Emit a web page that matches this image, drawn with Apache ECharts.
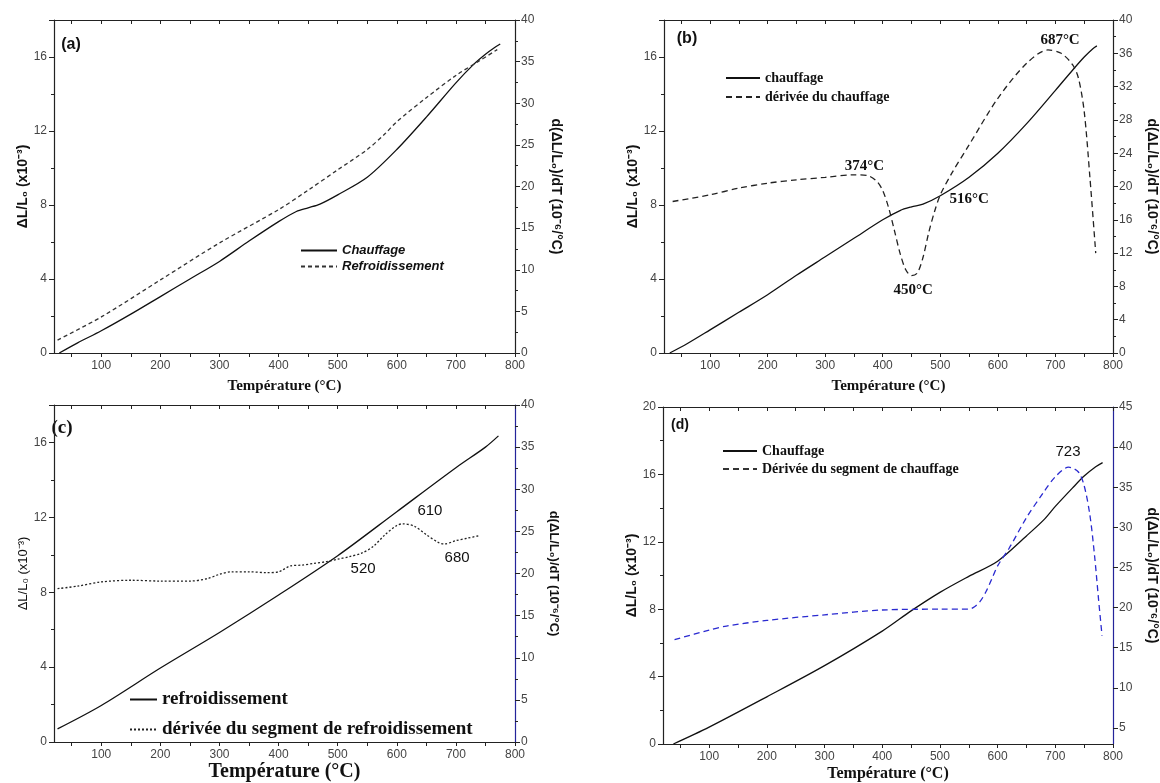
<!DOCTYPE html>
<html>
<head>
<meta charset="utf-8">
<script src="https://cdn.jsdelivr.net/npm/echarts@6/dist/echarts.min.js"></script>
<style>
html, body { margin: 0; padding: 0; background: #fff; }
#chart { width: 1160px; height: 783px; }
</style>
</head>
<body>
<div id="chart"></div>
<script>
// (a) heating / cooling dilatation
var aHeatT = [29, 60, 100, 150, 200, 250, 300, 350, 400, 430, 450, 470, 500, 550, 600, 650, 700, 730, 750, 765, 775];
var aHeatV = [0, 0.55, 1.2, 2.1, 3.05, 4.0, 4.95, 6.05, 7.1, 7.65, 7.85, 8.05, 8.55, 9.5, 11.0, 12.75, 14.6, 15.6, 16.15, 16.5, 16.7];
var aCoolT = [26, 100, 200, 300, 400, 450, 500, 550, 580, 600, 650, 700, 740, 770];
var aCoolV = [0.7, 1.95, 3.95, 5.95, 7.75, 8.8, 9.9, 11.0, 11.85, 12.5, 13.8, 15.0, 15.8, 16.4];

// (b) heating + derivative
var bHeatT = [30, 60, 100, 150, 200, 250, 300, 350, 400, 430, 450, 470, 500, 550, 600, 650, 700, 730, 750, 765, 772];
var bHeatV = [0, 0.5, 1.25, 2.2, 3.15, 4.2, 5.2, 6.2, 7.2, 7.7, 7.9, 8.05, 8.5, 9.5, 10.8, 12.4, 14.2, 15.3, 16.0, 16.45, 16.6];
var bDerT = [35, 100, 150, 200, 250, 300, 350, 374, 390, 400, 410, 420, 430, 440, 450, 460, 470, 480, 490, 500, 520, 550, 600, 650, 687, 710, 730, 740, 750, 760, 770];
var bDerV = [18.2, 19.0, 19.8, 20.4, 20.8, 21.1, 21.4, 21.3, 20.6, 19.5, 17.5, 14.8, 12.0, 10.0, 9.3, 9.6, 11.5, 14.5, 17.0, 19.0, 21.6, 25.0, 30.6, 34.8, 36.4, 36.0, 34.6, 33.0, 29.0, 21.0, 12.0];
var bNotes = [[368, 22.5, '374°C'], [453, 7.6, '450°C'], [550, 18.5, '516°C'], [708, 37.6, '687°C']];

// (c) cooling + derivative
var cCoolT = [26, 100, 200, 300, 400, 500, 600, 700, 750, 772];
var cCoolV = [0.7, 1.95, 3.95, 5.85, 7.85, 9.95, 12.3, 14.65, 15.75, 16.35];
var cDerT = [26, 60, 100, 150, 200, 250, 280, 300, 320, 350, 380, 400, 420, 440, 460, 480, 500, 520, 540, 560, 580, 600, 610, 630, 650, 670, 680, 700, 720, 740];
var cDerV = [18.2, 18.5, 19.0, 19.2, 19.1, 19.1, 19.4, 19.9, 20.2, 20.2, 20.1, 20.2, 20.9, 21.0, 21.2, 21.4, 21.7, 22.0, 22.4, 23.2, 24.6, 25.7, 25.9, 25.6, 24.6, 23.7, 23.5, 23.9, 24.2, 24.5];
var cNotes = [[656, 27.4, '610'], [543, 20.5, '520'], [702, 21.8, '680']];

// (d) heating + derivative
var dHeatT = [38, 100, 200, 300, 400, 450, 500, 550, 600, 650, 680, 700, 730, 750, 770, 782];
var dHeatV = [0, 1.0, 2.8, 4.65, 6.7, 7.9, 9.0, 9.95, 10.85, 12.35, 13.3, 14.1, 15.2, 15.9, 16.45, 16.7];
var dDerT = [40, 100, 130, 200, 300, 400, 500, 550, 560, 570, 580, 590, 600, 620, 650, 680, 700, 723, 740, 750, 760, 768, 775, 781];
var dDerV = [16.0, 17.2, 17.7, 18.4, 19.1, 19.7, 19.8, 19.8, 20.1, 20.8, 22.0, 23.6, 25.2, 27.4, 31.2, 34.4, 36.3, 37.5, 36.9, 35.2, 31.5, 26.5, 21.0, 16.5];
var dNotes = [[722, 39.4, '723']];

var xLabels = [100, 200, 300, 400, 500, 600, 700, 800];
var xTicks = [50, 100, 150, 200, 250, 300, 350, 400, 450, 500, 550, 600, 650, 700, 750, 800];
var dRightLabels = [5, 10, 15, 20, 25, 30, 35, 40, 45];

function pairs(t, v) {
  return t.map(function(x, i) { return [x, v[i]]; });
}

var SANS = 'Liberation Sans, Arial, sans-serif';
var SERIF = 'Liberation Serif, Times New Roman, serif';
var AXIS = '#222';
var NAVY = '#24249a';

var grids = [
  { left: 54, top: 20, width: 461, height: 333 },
  { left: 664, top: 20, width: 459, height: 333 },
  { left: 54, top: 405, width: 461, height: 337 },
  { left: 663, top: 407, width: 459, height: 337 }
];

var xNameStyle = [
  { fontSize: 15, gap: 26 },
  { fontSize: 15, gap: 26 },
  { fontSize: 20, gap: 17 },
  { fontSize: 16, gap: 22 }
];

var xAxes = [];
grids.forEach(function(g, i) {
  xAxes.push({
    type: 'value', gridIndex: i, min: 20, max: 800, position: 'bottom',
    name: 'Température (°C)', nameLocation: 'middle', nameGap: xNameStyle[i].gap,
    nameTextStyle: { fontFamily: SERIF, fontWeight: 'bold', fontSize: xNameStyle[i].fontSize, color: '#111' },
    axisLine: { show: true, onZero: false, lineStyle: { color: AXIS, width: 1.2 } },
    axisTick: { show: true, inside: false, length: 4, customValues: xTicks, lineStyle: { color: AXIS } },
    axisLabel: { customValues: xLabels, fontFamily: SANS, fontSize: 12, color: '#444', margin: 7 },
    splitLine: { show: false }
  });
  xAxes.push({
    type: 'value', gridIndex: i, min: 20, max: 800, position: 'top',
    axisLine: { show: true, onZero: false, lineStyle: { color: AXIS, width: 1.2 } },
    axisTick: { show: true, inside: true, length: 4, customValues: xTicks, lineStyle: { color: AXIS } },
    axisLabel: { show: false },
    splitLine: { show: false }
  });
});

function leftAxis(i, max, nameStyle) {
  return {
    type: 'value', gridIndex: i, min: 0, max: max, interval: 4, position: 'left',
    name: 'ΔL/L₀ (x10⁻³)', nameLocation: 'middle', nameGap: 24,
    nameTextStyle: nameStyle,
    axisLine: { show: true, onZero: false, lineStyle: { color: AXIS, width: 1.2 } },
    axisTick: { show: true, inside: false, length: 5, lineStyle: { color: AXIS } },
    minorTick: { show: true, splitNumber: 2, length: 3, lineStyle: { color: AXIS } },
    axisLabel: { fontFamily: SANS, fontSize: 12, color: '#444', margin: 7,
      formatter: function(v) { return (max === 18 && v === 18) ? '' : v; } },
    splitLine: { show: false }
  };
}

function rightAxis(i, min, max, interval, lineColor, nameStyle, gap) {
  var ax = {
    type: 'value', gridIndex: i, min: min, max: max, position: 'right',
    name: 'd(ΔL/L₀)/dT (10⁻⁶/°C)', nameLocation: 'middle', nameGap: gap, nameRotate: -90,
    nameTextStyle: nameStyle,
    axisLine: { show: true, onZero: false, lineStyle: { color: lineColor, width: 1.2 } },
    axisTick: { show: true, inside: false, length: 5, lineStyle: { color: AXIS } },
    minorTick: { show: true, splitNumber: 2, length: 3, lineStyle: { color: AXIS } },
    axisLabel: { fontFamily: SANS, fontSize: 12, color: '#444', margin: 6 },
    splitLine: { show: false }
  };
  if (interval) {
    ax.interval = interval;
  } else {
    ax.axisLabel.customValues = dRightLabels;
    ax.axisTick.customValues = dRightLabels;
    ax.minorTick.show = false;
  }
  return ax;
}

var boldSans = { fontFamily: SANS, fontWeight: 'bold', fontSize: 14, color: '#111' };
var plainSans = { fontFamily: SANS, fontWeight: 'normal', fontSize: 13, color: '#111' };

var yAxes = [
  leftAxis(0, 18, boldSans),
  rightAxis(0, 0, 40, 5, AXIS, boldSans, 34),
  leftAxis(1, 18, boldSans),
  rightAxis(1, 0, 40, 4, AXIS, boldSans, 32),
  leftAxis(2, 18, plainSans),
  rightAxis(2, 0, 40, 5, NAVY, { fontFamily: SANS, fontWeight: 'bold', fontSize: 13, color: '#111' }, 32),
  leftAxis(3, 20, boldSans),
  rightAxis(3, 3, 45, null, NAVY, boldSans, 32)
];

function line(name, xi, yi, data, color, dash) {
  return {
    name: name, type: 'line', xAxisIndex: xi, yAxisIndex: yi,
    data: data, symbol: 'none', showSymbol: false, smooth: 0.3,
    lineStyle: { color: color, width: 1.3, type: dash || 'solid' },
    itemStyle: { color: color },
    z: 3
  };
}

function notes(list, font) {
  return {
    symbol: 'circle', symbolSize: 0, silent: true,
    label: { show: true, position: 'inside', formatter: '{b}', color: '#111',
      fontFamily: font.fontFamily, fontWeight: font.fontWeight, fontSize: font.fontSize },
    data: list.map(function(n) { return { name: n[2], coord: [n[0], n[1]] }; })
  };
}

var bDer = line('dérivée du chauffage', 2, 3, pairs(bDerT, bDerV), '#222', [6, 4]);
bDer.markPoint = notes(bNotes, { fontFamily: SERIF, fontWeight: 'bold', fontSize: 15 });
var cDer = line('dérivée du segment de refroidissement', 4, 5, pairs(cDerT, cDerV), '#222', [2, 2]);
cDer.markPoint = notes(cNotes, { fontFamily: SANS, fontWeight: 'normal', fontSize: 15 });
var dDer = line('Dérivée du segment de chauffage', 6, 7, pairs(dDerT, dDerV), '#2a2ad0', [6, 4]);
dDer.markPoint = notes(dNotes, { fontFamily: SANS, fontWeight: 'normal', fontSize: 15 });

var series = [
  line('Chauffage', 0, 0, pairs(aHeatT, aHeatV), '#111'),
  line('Refroidissement', 0, 0, pairs(aCoolT, aCoolV), '#333', [4, 3]),
  line('chauffage', 2, 2, pairs(bHeatT, bHeatV), '#111'),
  bDer,
  line('refroidissement', 4, 4, pairs(cCoolT, cCoolV), '#111'),
  cDer,
  line('Chauffage ', 6, 6, pairs(dHeatT, dHeatV), '#111'),
  dDer
];

var legends = [
  { data: ['Chauffage', 'Refroidissement'], left: 300, top: 244, itemWidth: 36, itemGap: 3,
    textStyle: { fontFamily: SANS, fontStyle: 'italic', fontWeight: 'bold', fontSize: 13, color: '#111' } },
  { data: ['chauffage', 'dérivée du chauffage'], left: 725, top: 71, itemWidth: 34, itemGap: 5,
    textStyle: { fontFamily: SERIF, fontWeight: 'bold', fontSize: 14, color: '#111' } },
  { data: ['refroidissement', 'dérivée du segment de refroidissement'], left: 129, top: 690, itemWidth: 27, itemGap: 11,
    textStyle: { fontFamily: SERIF, fontWeight: 'bold', fontSize: 19, color: '#111' } },
  { data: ['Chauffage ', { name: 'Dérivée du segment de chauffage', lineStyle: { color: '#333' } }],
    left: 722, top: 444, itemWidth: 34, itemGap: 4,
    textStyle: { fontFamily: SERIF, fontWeight: 'bold', fontSize: 14, color: '#111' } }
].map(function(l) {
  l.orient = 'vertical';
  l.itemHeight = 12;
  l.selectedMode = false;
  l.padding = 0;
  l.itemStyle = { opacity: 0, borderWidth: 0 };
  return l;
});

function tag(text, x, y, font, size) {
  return {
    type: 'text', x: x, y: y, silent: true,
    style: { text: text, fill: '#111', font: 'bold ' + size + 'px ' + font,
      textAlign: 'center', textVerticalAlign: 'middle', align: 'center', verticalAlign: 'middle' }
  };
}

var chart = echarts.init(document.getElementById('chart'), null, { renderer: 'canvas' });
chart.setOption({
  backgroundColor: '#fff',
  animation: false,
  grid: grids,
  xAxis: xAxes,
  yAxis: yAxes,
  legend: legends,
  series: series,
  graphic: [
    tag('(a)', 71, 45, SANS, 16),
    tag('(b)', 687, 39, SANS, 16),
    tag('(c)', 62, 428, SERIF, 19),
    tag('(d)', 680, 425, SANS, 14)
  ]
});
</script>
</body>
</html>
